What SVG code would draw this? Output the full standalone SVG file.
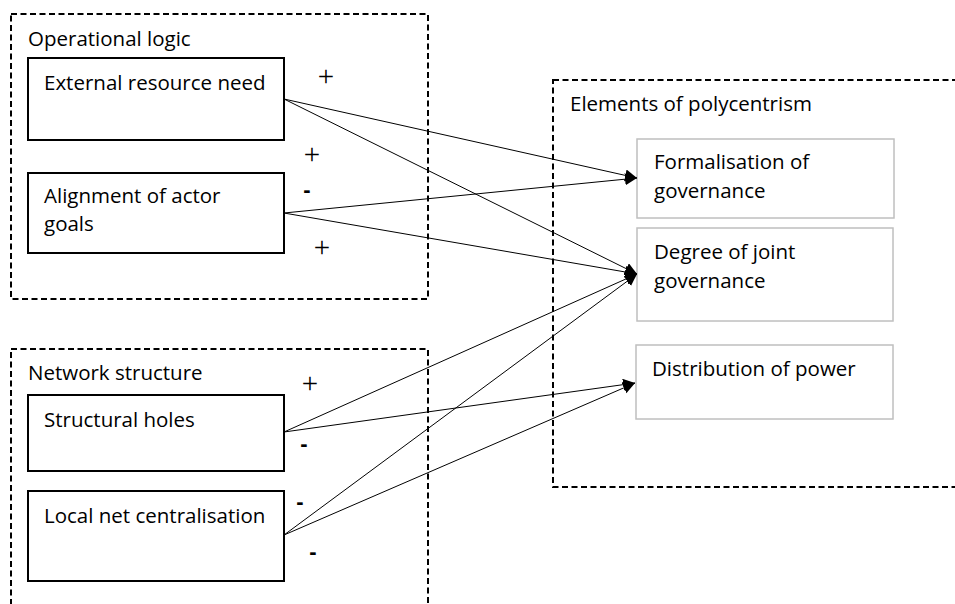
<svg xmlns="http://www.w3.org/2000/svg" width="955" height="604" viewBox="0 0 955 604">
  <style>
    .group { fill: none; stroke: #000; stroke-width: 2; stroke-dasharray: 6 3.5; }
    .src { fill: #fff; stroke: #000; stroke-width: 2; }
    .dst { fill: #fff; stroke: #bfbfbf; stroke-width: 1.5; }
    .lbl { font-family: "Open Sans", "Liberation Sans", sans-serif; font-size: 20.5px; fill: #000; }
    .plus { font-family: "Liberation Serif", serif; font-size: 29px; fill: #000; text-anchor: middle; }
    .minus { font-family: "Liberation Sans", sans-serif; font-weight: bold; font-size: 22px; fill: #000; text-anchor: middle; }
    .link { fill: none; stroke: #000; stroke-width: 1; marker-end: url(#arrow); }
  </style>
  <defs>
    <marker id="arrow" markerUnits="userSpaceOnUse" markerWidth="13" markerHeight="13" refX="12" refY="6" orient="auto">
      <path d="M0,0 L12,6 L0,12 z" fill="#000"/>
    </marker>
  </defs>
  <rect width="955" height="604" fill="#fff"/>

  <!-- group frames -->
  <g id="operational-logic">
    <rect class="group" x="11" y="14" width="417" height="285"/>
    <text class="lbl" x="28" y="46">Operational logic</text>
  </g>
  <g id="network-structure">
    <rect class="group" x="11" y="349" width="417" height="300"/>
    <text class="lbl" x="28" y="380">Network structure</text>
  </g>
  <g id="elements-of-polycentrism">
    <rect class="group" x="553" y="80" width="450" height="407"/>
    <text class="lbl" x="570" y="111">Elements of polycentrism</text>
  </g>

  <!-- driver nodes -->
  <g id="external-resource-need">
    <rect class="src" x="28" y="58" width="256" height="82"/>
    <text class="lbl" x="44" y="90">External resource need</text>
  </g>
  <g id="alignment-of-actor-goals">
    <rect class="src" x="28" y="173" width="256" height="80"/>
    <text class="lbl" x="44" y="203">Alignment of actor</text>
    <text class="lbl" x="44" y="231">goals</text>
  </g>
  <g id="structural-holes">
    <rect class="src" x="28" y="395" width="256" height="76"/>
    <text class="lbl" x="44" y="427">Structural holes</text>
  </g>
  <g id="local-net-centralisation">
    <rect class="src" x="28" y="491" width="256" height="90"/>
    <text class="lbl" x="44" y="523">Local net centralisation</text>
  </g>

  <!-- outcome nodes -->
  <g id="formalisation-of-governance">
    <rect class="dst" x="637" y="139" width="257" height="79"/>
    <text class="lbl" x="654" y="169">Formalisation of</text>
    <text class="lbl" x="654" y="198">governance</text>
  </g>
  <g id="degree-of-joint-governance">
    <rect class="dst" x="637" y="228" width="256" height="93"/>
    <text class="lbl" x="654" y="259">Degree of joint</text>
    <text class="lbl" x="654" y="288">governance</text>
  </g>
  <g id="distribution-of-power">
    <rect class="dst" x="636" y="345" width="257" height="74"/>
    <text class="lbl" x="652" y="376">Distribution of power</text>
  </g>

  <!-- connectors -->
  <g id="connectors">
    <line class="link" x1="284" y1="99" x2="637" y2="178"/>
    <line class="link" x1="284" y1="99" x2="637" y2="274"/>
    <line class="link" x1="284" y1="213" x2="637" y2="178"/>
    <line class="link" x1="284" y1="213" x2="637" y2="274"/>
    <line class="link" x1="284" y1="432" x2="637" y2="274"/>
    <line class="link" x1="284" y1="432" x2="635" y2="383"/>
    <line class="link" x1="284" y1="535" x2="637" y2="274"/>
    <line class="link" x1="284" y1="535" x2="635" y2="383"/>
  </g>

  <!-- effect signs -->
  <g id="signs">
    <text class="plus" x="326" y="86">+</text>
    <text class="plus" x="312" y="164">+</text>
    <text class="minus" x="307" y="197">-</text>
    <text class="plus" x="322" y="257">+</text>
    <text class="plus" x="310" y="393">+</text>
    <text class="minus" x="304" y="451">-</text>
    <text class="minus" x="300" y="509">-</text>
    <text class="minus" x="313" y="559">-</text>
  </g>
</svg>
